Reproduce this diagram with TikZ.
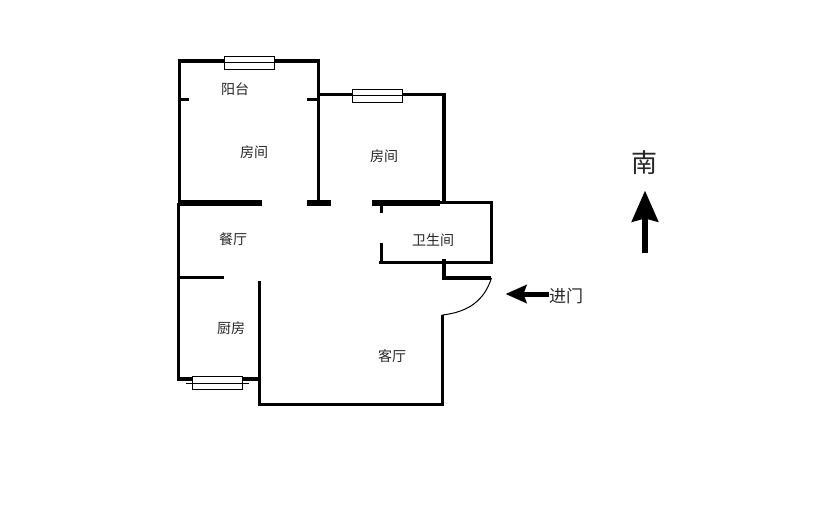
\documentclass[tikz,border=0pt]{standalone}
\usepackage{fontspec}
\setmainfont{Noto Sans CJK SC}
\usetikzlibrary{arrows.meta, positioning}

\begin{document}
\begin{tikzpicture}[
	x = 1pt, y = -1pt,
	wall/.style = {line width=3.6pt, line cap=square},
	thin wall/.style = {line width=3pt},
	thick wall/.style = {line width=5.5pt},
	room/.style = {font=\fontsize{14pt}{15pt}\selectfont, text=black!85, inner sep=0pt},
	window/.style = {draw, fill=white, line width=0.8pt, minimum width=50pt, minimum height=13pt, inner sep=0pt},
	arrow/.style = {-{Stealth[length=21pt, width=18pt, inset=3pt]}, line width=5pt}
]
\useasboundingbox (0, 0) rectangle (814, 519);

% walls
\draw[wall] (179.5, 203) -- (179.5, 61) -- (318.5, 61) -- (318.5, 203);
\draw[wall] (318.5, 94.5) -- (444, 94.5) -- (444, 203);
\draw[wall] (178.5, 203) -- (178.5, 379) -- (259.5, 379);
\draw[wall] (178.5, 277.5) -- (224, 277.5);
\draw[wall] (259.5, 281) -- (259.5, 404.5) -- (442.5, 404.5) -- (442.5, 315);
\draw[wall] (444, 259) -- (444, 278) -- (491, 278);
\draw[wall] (440, 202.5) -- (491.5, 202.5) -- (491.5, 262.5) -- (379, 262.5);

\draw[thin wall] (180, 99.5) -- (189, 99.5);
\draw[thin wall] (307, 99.5) -- (318, 99.5);
\draw[thin wall] (381, 203) -- (381, 213);
\draw[thin wall] (381, 243) -- (381, 262);

\draw[thick wall] (178, 203) -- (262, 203);
\draw[thick wall] (307, 203) -- (331, 203);
\draw[thick wall] (372, 203) -- (440, 203);

% door
\draw[line width=1pt] (491.5, 278) .. controls (484, 301) and (468, 312) .. (442.5, 315);

% windows
\draw[line width=0.8pt] (186, 383.3) -- (249, 383.3);
\foreach \name/\cx/\cy in {balcony window/249.3/62.8, bedroom window/377.3/95.8, kitchen window/217.3/382.6}
	\node[window] (\name) at (\cx, \cy) {};
\draw[line width=0.8pt] (balcony window.west) -- (balcony window.east);
\draw[line width=0.8pt] (bedroom window.west) -- (bedroom window.east);
\draw[line width=0.8pt] (kitchen window.west |- 0, 383.3) -- (kitchen window.east |- 0, 383.3);

% rooms
\node[room] (balcony) at (235, 89) {阳台};
\node[room] (bedroom a) at (254, 152) {房间};
\node[room] (bedroom b) at (384, 156) {房间};
\node[room] (dining) at (233, 239) {餐厅};
\node[room] (bath) at (433, 240) {卫生间};
\node[room] (kitchen) at (231, 328) {厨房};
\node[room] (living) at (392, 356) {客厅};

% entrance and north mark
\node[room, font=\fontsize{17pt}{18pt}\selectfont] (entrance) at (566, 296) {进门};
\coordinate[left=0pt of entrance.west] (entrance start);
\draw[arrow] (entrance start |- 0, 294) -- (505.5, 294);

\node[room, font=\fontsize{26pt}{27pt}\selectfont] (south) at (644.5, 163) {南};
\coordinate (south start) at (645, 252.5);
\draw[arrow, line width=6pt, -{Stealth[length=31pt, width=26pt, inset=3pt]}] (south start) -- (645, 190.5);

\end{tikzpicture}
\end{document}
